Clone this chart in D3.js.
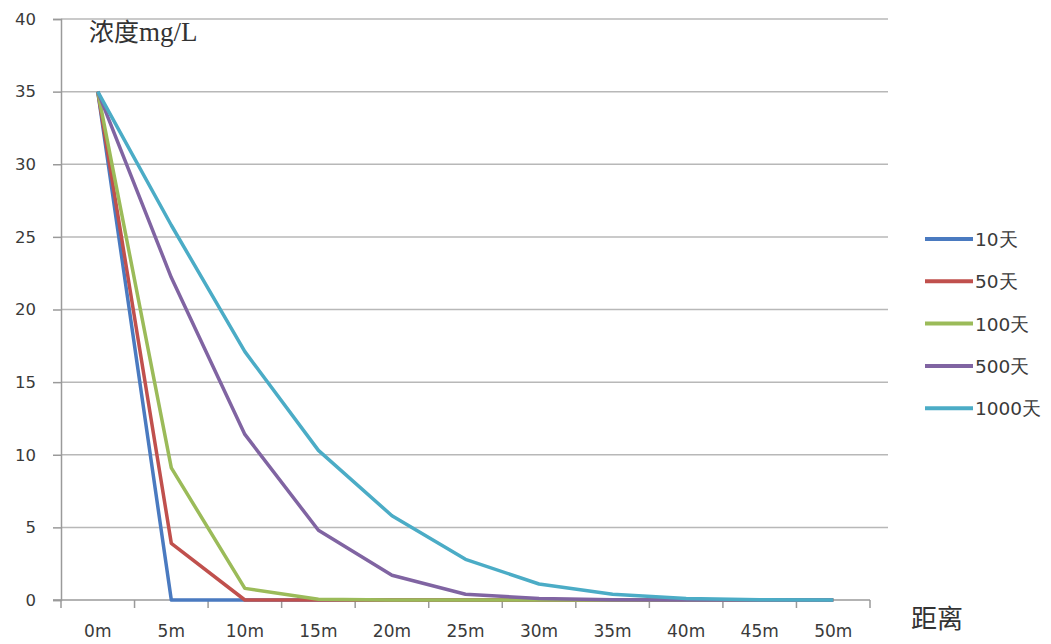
<!DOCTYPE html>
<html><head><meta charset="utf-8">
<script src="https://cdn.jsdelivr.net/npm/d3@7/dist/d3.min.js"></script>
<style>body{margin:0;background:#fff}svg{display:block}</style>
</head><body><svg id="c" width="1051" height="644"></svg>
<script>
const distances = ["0m","5m","10m","15m","20m","25m","30m","35m","40m","45m","50m"];
const seriesNames = ["10天","50天","100天","500天","1000天"];
const s10   = [35, 0, 0, 0, 0, 0, 0, 0, 0, 0, 0];
const s50   = [35, 3.9, 0, 0, 0, 0, 0, 0, 0, 0, 0];
const s100  = [35, 9.1, 0.8, 0.05, 0, 0, 0, 0, 0, 0, 0];
const s500  = [35, 22.2, 11.4, 4.8, 1.7, 0.4, 0.1, 0.02, 0, 0, 0];
const s1000 = [35, 25.8, 17.1, 10.3, 5.8, 2.8, 1.1, 0.4, 0.1, 0.02, 0];
const yTicks = [0,5,10,15,20,25,30,35,40];
const colors = ["#4a7ac0","#c0504d","#9bbb59","#8064a2","#4bacc6"];
const seriesValues = [s10, s50, s100, s500, s1000];

const svg = d3.select("#c");
const pL = 61, pR = 870, pT = 19, pB = 600, gridRight = 888;
const xBand = d3.scaleBand().domain(distances).range([pL, pR]);
const x = d3.scalePoint().domain(distances).range([pL, pR]).padding(0.5);
const y = d3.scaleLinear().domain([0, 40]).range([pB, pT]);

// gridlines
svg.append("g").selectAll("line").data(yTicks.filter(d => d > 0)).join("line")
  .attr("x1", pL).attr("x2", gridRight)
  .attr("y1", d => y(d)).attr("y2", d => y(d))
  .attr("stroke", "#b8b8b8").attr("stroke-width", 1.5);

// y axis
const yAxis = svg.append("g").attr("transform", `translate(${pL},0)`)
  .call(d3.axisLeft(y).tickValues(yTicks).tickSize(8).tickPadding(17));
yAxis.select(".domain").attr("stroke", "#9a9a9a").attr("stroke-width", 1.5);
yAxis.selectAll(".tick line").attr("stroke", "#9a9a9a").attr("stroke-width", 1.5);
yAxis.selectAll("text").attr("font-family", "DejaVu Sans").attr("font-size", 16.5).attr("fill", "#3a3a3a");

// x axis
const xAxisG = svg.append("g").attr("transform", `translate(0,${pB})`);
xAxisG.append("line").attr("x1", pL - 8).attr("x2", pR).attr("stroke", "#9a9a9a").attr("stroke-width", 1.5);
const bounds = distances.map(d => xBand(d)).concat([pR]);
xAxisG.selectAll("line.tk").data(bounds).join("line").attr("class","tk")
  .attr("x1", d => d).attr("x2", d => d).attr("y1", 0).attr("y2", 8)
  .attr("stroke", "#9a9a9a").attr("stroke-width", 1.5);
xAxisG.selectAll("text").data(distances).join("text")
  .attr("x", d => x(d)).attr("y", 37).attr("text-anchor", "middle")
  .attr("font-family", "DejaVu Sans").attr("font-size", 17).attr("fill", "#3a3a3a")
  .text(d => d);

// lines
const line = d3.line().x((d, i) => x(distances[i])).y(d => y(d));
seriesValues.forEach((vals, k) => {
  svg.append("path").datum(vals).attr("d", line).attr("fill", "none")
    .attr("stroke", colors[k]).attr("stroke-width", 3.5).attr("stroke-linejoin", "round");
});

// title labels
const t = svg.append("text").attr("x", 89).attr("y", 41).attr("fill", "#333").attr("font-size", 25);
t.append("tspan").attr("font-family", "Noto Sans CJK SC").text("浓度");
t.append("tspan").attr("font-family", "Liberation Serif").attr("font-size", 27).text("mg/L");
svg.append("text").attr("x", 911).attr("y", 628).attr("font-family", "Noto Sans CJK SC")
  .attr("font-size", 26).attr("fill", "#333").text("距离");

// legend
const lg = svg.append("g");
seriesNames.forEach((n, k) => {
  const ly = 239 + k * 42.3;
  lg.append("line").attr("x1", 925).attr("x2", 973).attr("y1", ly).attr("y2", ly)
    .attr("stroke", colors[k]).attr("stroke-width", 4);
  lg.append("text").attr("x", 975).attr("y", ly + 7).attr("font-family", "DejaVu Sans")
    .attr("font-size", 18.5).attr("fill", "#3a3a3a").text(n);
});
</script></body></html>
